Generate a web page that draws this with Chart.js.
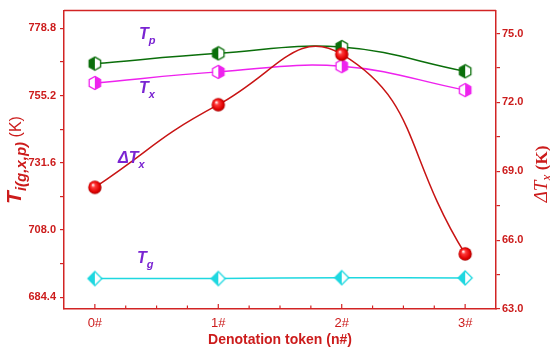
<!DOCTYPE html>
<html>
<head>
<meta charset="utf-8">
<style>
  html, body { margin: 0; padding: 0; background: #fff; }
  #wrap { width: 550px; height: 351px; }
</style>
<script src="https://cdn.jsdelivr.net/npm/chart.js@4.4.1/dist/chart.umd.min.js"></script>
</head>
<body>
<div id="wrap"><canvas id="chart" width="550" height="351"></canvas></div>
<script>
// values
var categories = ['0#', '1#', '2#', '3#'];
var tpValues  = [766.4, 770.0, 772.2, 763.7];
var txValues  = [759.6, 763.5, 765.5, 757.1];
var tgValues  = [691.0, 691.0, 691.3, 691.2];
var dtxValues = [68.3, 71.9, 74.1, 65.4];
var leftTicks  = [684.4, 708.0, 731.6, 755.2, 778.8];
var rightTicks = [63.0, 66.0, 69.0, 72.0, 75.0];

var axisRed = '#d22424';
var textRed = '#cc1c1c';
var purple = '#7a24d2';

function points(vals) {
  return vals.map(function(v, i) { return { x: i, y: v }; });
}

// majors plus a minor tick half way between each pair
function withMinors(majors) {
  var out = [];
  for (var i = 0; i < majors.length; i++) {
    out.push(majors[i]);
    if (i < majors.length - 1) out.push((majors[i] + majors[i + 1]) / 2);
  }
  return out;
}

function isMajor(list, v) {
  return list.some(function(m) { return Math.abs(m - v) < 1e-6; });
}

// ---- marker drawings ----
function hexMarker(color, leftFilled) {
  var c = document.createElement('canvas');
  c.width = 16; c.height = 16;
  var g = c.getContext('2d');
  var r = 6.6;
  g.beginPath();
  for (var k = 0; k < 6; k++) {
    var a = -Math.PI / 2 + k * Math.PI / 3;
    var px = 8 + r * Math.cos(a), py = 8 + r * Math.sin(a);
    if (k === 0) g.moveTo(px, py); else g.lineTo(px, py);
  }
  g.closePath();
  g.fillStyle = '#fff';
  g.fill();
  g.save();
  g.clip();
  g.fillStyle = color;
  if (leftFilled) g.fillRect(0, 0, 8, 16); else g.fillRect(8, 0, 8, 16);
  g.restore();
  g.strokeStyle = color;
  g.lineWidth = 1.3;
  g.stroke();
  return c;
}

function diamondMarker(color) {
  var c = document.createElement('canvas');
  c.width = 18; c.height = 18;
  var g = c.getContext('2d');
  g.beginPath();
  g.moveTo(9, 2); g.lineTo(16, 9); g.lineTo(9, 16); g.lineTo(2, 9);
  g.closePath();
  g.fillStyle = '#fff';
  g.fill();
  g.save();
  g.clip();
  g.fillStyle = color;
  g.fillRect(0, 0, 9, 18);
  g.restore();
  g.strokeStyle = color;
  g.lineWidth = 1.3;
  g.stroke();
  return c;
}

function sphereMarker() {
  var c = document.createElement('canvas');
  c.width = 16; c.height = 16;
  var g = c.getContext('2d');
  var grad = g.createRadialGradient(6, 5.5, 0.5, 8, 8, 7);
  grad.addColorStop(0, '#ffe8e8');
  grad.addColorStop(0.25, '#ff3a3a');
  grad.addColorStop(0.75, '#e00000');
  grad.addColorStop(1, '#a00000');
  g.beginPath();
  g.arc(8, 8, 6.7, 0, Math.PI * 2);
  g.fillStyle = grad;
  g.fill();
  return c;
}

// ---- text helpers ----
// parts: [text, font, baselineShift]
function drawParts(ctx, parts, x, y, align) {
  var total = 0;
  parts.forEach(function(p) { ctx.font = p[1]; total += ctx.measureText(p[0]).width; });
  var cx = align === 'center' ? x - total / 2 : x;
  ctx.textBaseline = 'alphabetic';
  ctx.textAlign = 'left';
  parts.forEach(function(p) {
    ctx.font = p[1];
    ctx.fillText(p[0], cx, y + (p[2] || 0));
    cx += ctx.measureText(p[0]).width;
  });
}

var decorations = {
  id: 'decorations',
  afterDraw: function(chart) {
    var ctx = chart.ctx;
    var area = chart.chartArea;
    var xs = chart.scales.x;
    ctx.save();

    // top frame line
    ctx.strokeStyle = axisRed;
    ctx.lineWidth = 1.5;
    ctx.beginPath();
    ctx.moveTo(area.left, area.top);
    ctx.lineTo(area.right, area.top);
    ctx.stroke();

    // x ticks pointing inward
    ctx.lineWidth = 1.2;
    xs.ticks.forEach(function(t) {
      var px = xs.getPixelForValue(t.value);
      var len = Number.isInteger(Math.round(t.value * 1000) / 1000) ? 5 : 3.5;
      ctx.beginPath();
      ctx.moveTo(px, area.bottom);
      ctx.lineTo(px, area.bottom - len);
      ctx.stroke();
    });

    // x title
    ctx.fillStyle = textRed;
    ctx.font = 'bold 14px "Liberation Sans", Arial, sans-serif';
    ctx.textAlign = 'center';
    ctx.textBaseline = 'middle';
    ctx.fillText('Denotation token (n#)', (area.left + area.right) / 2, 340);

    // left title
    ctx.save();
    ctx.translate(15, 160);
    ctx.rotate(-Math.PI / 2);
    ctx.fillStyle = textRed;
    drawParts(ctx, [
      ['T', 'italic bold 21px "Liberation Sans", Arial, sans-serif', 0],
      ['i(g,x,p)', 'italic bold 15px "Liberation Sans", Arial, sans-serif', 5],
      [' (K)', '16px "Liberation Sans", Arial, sans-serif', 0]
    ], 0, 6, 'center');
    ctx.restore();

    // right title
    ctx.save();
    ctx.translate(541, 174);
    ctx.rotate(-Math.PI / 2);
    ctx.fillStyle = textRed;
    drawParts(ctx, [
      ['\u0394T', 'italic 19px "Liberation Serif", "Times New Roman", serif', 0],
      ['x', 'italic 14px "Liberation Serif", "Times New Roman", serif', 4],
      [' (K)', 'bold 17px "Liberation Serif", "Times New Roman", serif', 0]
    ], 0, 6, 'center');
    ctx.restore();

    // series labels inside the plot
    ctx.fillStyle = purple;
    var big = 'italic bold 16px "Liberation Sans", Arial, sans-serif';
    var small = 'italic bold 11px "Liberation Sans", Arial, sans-serif';
    drawParts(ctx, [['T', big, 0], ['p', small, 5]], 139, 39, 'left');
    drawParts(ctx, [['T', big, 0], ['x', small, 5]], 139, 93, 'left');
    drawParts(ctx, [['\u0394T', big, 0], ['x', small, 5]], 118, 163, 'left');
    drawParts(ctx, [['T', big, 0], ['g', small, 5]], 137, 263, 'left');

    ctx.restore();
  }
};

var ctx = document.getElementById('chart');

var chart = new Chart(ctx, {
  type: 'line',
  data: {
    datasets: [
      {
        label: 'dTx',
        data: points(dtxValues),
        yAxisID: 'y2',
        borderColor: '#c81414',
        borderWidth: 1.5,
        tension: 0.5,
        pointStyle: sphereMarker(),
        fill: false
      },
      {
        label: 'Tp',
        data: points(tpValues),
        yAxisID: 'y',
        borderColor: '#0a6e0a',
        borderWidth: 1.5,
        tension: 0.4,
        pointStyle: hexMarker('#0a6e0a', true),
        fill: false
      },
      {
        label: 'Tx',
        data: points(txValues),
        yAxisID: 'y',
        borderColor: '#ee22ee',
        borderWidth: 1.5,
        tension: 0.4,
        pointStyle: hexMarker('#ee22ee', false),
        fill: false
      },
      {
        label: 'Tg',
        data: points(tgValues),
        yAxisID: 'y',
        borderColor: '#1ed8e0',
        borderWidth: 1.5,
        tension: 0.4,
        pointStyle: diamondMarker('#1ed8e0'),
        fill: false
      }
    ]
  },
  options: {
    responsive: false,
    animation: false,
    events: [],
    layout: { padding: { top: 4, left: 0, right: 0, bottom: 0 } },
    plugins: {
      legend: { display: false },
      tooltip: { enabled: false }
    },
    scales: {
      x: {
        type: 'linear',
        min: -0.25,
        max: 3.25,
        afterBuildTicks: function(scale) {
          var t = [];
          for (var i = 1; i <= 13; i++) t.push({ value: -0.25 + i * 0.25 });
          scale.ticks = t;
        },
        afterFit: function(scale) { scale.height = 42; },
        grid: { drawOnChartArea: false, drawTicks: false },
        border: { display: true, color: axisRed, width: 1.5 },
        ticks: {
          padding: 7,
          color: textRed,
          font: { family: '"Liberation Sans", Arial, sans-serif', size: 13 },
          autoSkip: false,
          maxRotation: 0,
          callback: function(v) {
            var r = Math.round(v * 1000) / 1000;
            return Number.isInteger(r) ? categories[r] : '';
          }
        }
      },
      y: {
        position: 'left',
        min: 680.3,
        max: 785.0,
        afterBuildTicks: function(scale) {
          scale.ticks = withMinors(leftTicks).map(function(v) { return { value: v }; });
        },
        afterFit: function(scale) { scale.width = 64; },
        grid: { drawOnChartArea: false, drawTicks: true, tickLength: 4, color: axisRed, lineWidth: 1.2 },
        border: { display: true, color: axisRed, width: 1.5 },
        ticks: {
          padding: 4,
          color: textRed,
          font: { family: '"Liberation Sans", Arial, sans-serif', size: 11, weight: 'bold' },
          autoSkip: false,
          callback: function(v) { return isMajor(leftTicks, v) ? v.toFixed(1) : ''; }
        }
      },
      y2: {
        position: 'right',
        min: 63.0,
        max: 76.0,
        afterBuildTicks: function(scale) {
          scale.ticks = withMinors(rightTicks).map(function(v) { return { value: v }; });
        },
        afterFit: function(scale) { scale.width = 54; },
        grid: { drawOnChartArea: false, drawTicks: true, tickLength: 4, color: axisRed, lineWidth: 1.2 },
        border: { display: true, color: axisRed, width: 1.5 },
        ticks: {
          padding: 2,
          color: textRed,
          font: { family: '"Liberation Sans", Arial, sans-serif', size: 11, weight: 'bold' },
          autoSkip: false,
          callback: function(v) { return isMajor(rightTicks, v) ? v.toFixed(1) : ''; }
        }
      }
    }
  },
  plugins: [decorations]
});
</script>
</body>
</html>
